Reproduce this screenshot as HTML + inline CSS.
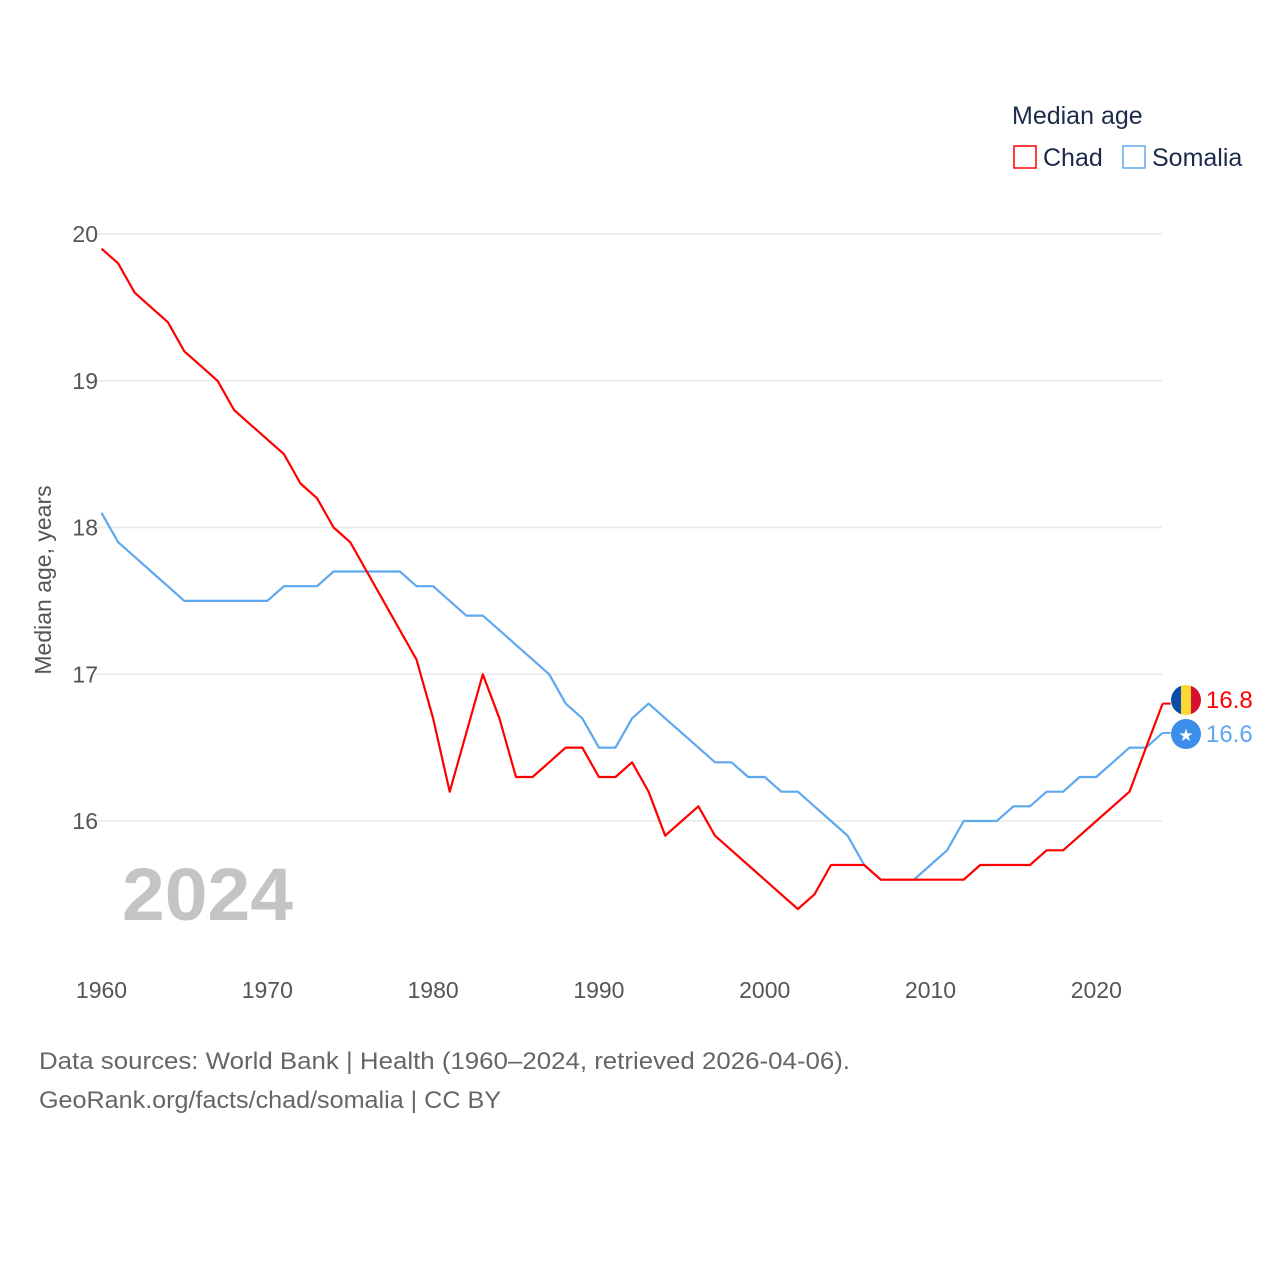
<!DOCTYPE html>
<html><head><meta charset="utf-8"><style>
body{margin:0;background:#fff;width:1280px;height:1280px;overflow:hidden;font-family:"Liberation Sans",sans-serif}
</style></head><body>
<svg id="chart" width="1280" height="1280" xmlns="http://www.w3.org/2000/svg" font-family="Liberation Sans, sans-serif"></svg>
<script>
const years=[];for(let y=1960;y<=2024;y++)years.push(y);
const chad=[19.9,19.8,19.6,19.5,19.4,19.2,19.1,19.0,18.8,18.7,18.6,18.5,18.3,18.2,18.0,17.9,17.7,17.5,17.3,17.1,16.7,16.2,16.6,17.0,16.7,16.3,16.3,16.4,16.5,16.5,16.3,16.3,16.4,16.2,15.9,16.0,16.1,15.9,15.8,15.7,15.6,15.5,15.4,15.5,15.7,15.7,15.7,15.6,15.6,15.6,15.6,15.6,15.6,15.7,15.7,15.7,15.7,15.8,15.8,15.9,16.0,16.1,16.2,16.5,16.8];
const somalia=[18.1,17.9,17.8,17.7,17.6,17.5,17.5,17.5,17.5,17.5,17.5,17.6,17.6,17.6,17.7,17.7,17.7,17.7,17.7,17.6,17.6,17.5,17.4,17.4,17.3,17.2,17.1,17.0,16.8,16.7,16.5,16.5,16.7,16.8,16.7,16.6,16.5,16.4,16.4,16.3,16.3,16.2,16.2,16.1,16.0,15.9,15.7,15.6,15.6,15.6,15.7,15.8,16.0,16.0,16.0,16.1,16.1,16.2,16.2,16.3,16.3,16.4,16.5,16.5,16.6];
const yTicks=[16,17,18,19,20];
const xTicks=[1960,1970,1980,1990,2000,2010,2020];
const svg=document.getElementById('chart');
const NS='http://www.w3.org/2000/svg';
const X=y=>101.5+(y-1960)*16.58;
const Y=v=>821-(v-16)*146.75;
function mk(t,a,txt){const e=document.createElementNS(NS,t);for(const k in a)e.setAttribute(k,a[k]);if(txt!==undefined)e.textContent=txt;svg.appendChild(e);return e;}
yTicks.forEach(t=>{
const g=mk('line',{x1:95,x2:1162,y1:Y(t),y2:Y(t),stroke:'#e8e8e8','stroke-width':1.5});


const l=mk('text',{x:98,y:Y(t)+8,'text-anchor':'end','font-size':23,fill:'#555'},t);


});
xTicks.forEach(t=>{
const l=mk('text',{x:X(t),y:998,'text-anchor':'middle','font-size':23,fill:'#555'},t);


});
const yt=mk('text',{x:0,y:0,transform:'translate(51,580) rotate(-90)','text-anchor':'middle','font-size':23,fill:'#555'},'Median age, years');


const yr=mk('text',{x:122,y:920,'font-size':74,'font-weight':'bold',fill:'#c4c4c4',textLength:171,lengthAdjust:'spacingAndGlyphs'},'2024');


function line(vals,col,name){
const d=vals.map((v,i)=>(i?'L':'M')+X(years[i]).toFixed(1)+','+Y(v).toFixed(1)).join('');
const p=mk('path',{d:d,fill:'none',stroke:col,'stroke-width':2.2,'stroke-linejoin':'round'});


}
line(somalia,'#5ea8ef','somalia-line');
line(chad,'#f00','chad-line');
const lc=chad[chad.length-1], ls=somalia[somalia.length-1];
mk('line',{x1:X(2024),x2:X(2024)+8,y1:Y(lc),y2:Y(lc),stroke:'#f00','stroke-width':2});
mk('line',{x1:X(2024),x2:X(2024)+8,y1:Y(ls),y2:Y(ls),stroke:'#5ea8ef','stroke-width':2});
</script>
<svg style="position:absolute;left:0;top:0" width="1280" height="1280">
<defs><clipPath id="cc"><circle cx="1186" cy="700" r="15"/></clipPath></defs>
<g clip-path="url(#cc)">
<rect x="1171" y="685" width="10" height="30" fill="#0a4ea8"/><rect x="1181" y="685" width="10" height="30" fill="#fdd835"/><rect x="1191" y="685" width="10" height="30" fill="#d8102f"/></g>
<circle cx="1186" cy="734" r="15" fill="#3b8eea"/>
<text x="1186" y="741" text-anchor="middle" font-size="17" fill="#fff">★</text>
<text x="1206" y="708" font-size="24" fill="#f00" font-family="Liberation Sans">16.8</text>
<text x="1206" y="742" font-size="24" fill="#5ea8ef" font-family="Liberation Sans">16.6</text>
<text x="1012" y="124" font-size="25" fill="#1c2b4a" font-family="Liberation Sans">Median age</text>
<rect x="1014" y="146" width="22" height="22" fill="none" stroke="#f00" stroke-width="1.5"/>
<text x="1043" y="166" font-size="25" fill="#1c2b4a" font-family="Liberation Sans">Chad</text>
<rect x="1123" y="146" width="22" height="22" fill="none" stroke="#5ea8ef" stroke-width="1.5"/>
<text x="1152" y="166" font-size="25" fill="#1c2b4a" font-family="Liberation Sans">Somalia</text>
<text x="39" y="1069" font-size="24" fill="#666" font-family="Liberation Sans" textLength="811" lengthAdjust="spacingAndGlyphs">Data sources: World Bank | Health (1960–2024, retrieved 2026-04-06).</text>
<text x="39" y="1108" font-size="24" fill="#666" font-family="Liberation Sans" textLength="462" lengthAdjust="spacingAndGlyphs">GeoRank.org/facts/chad/somalia | CC BY</text>
</svg>
</body></html>
